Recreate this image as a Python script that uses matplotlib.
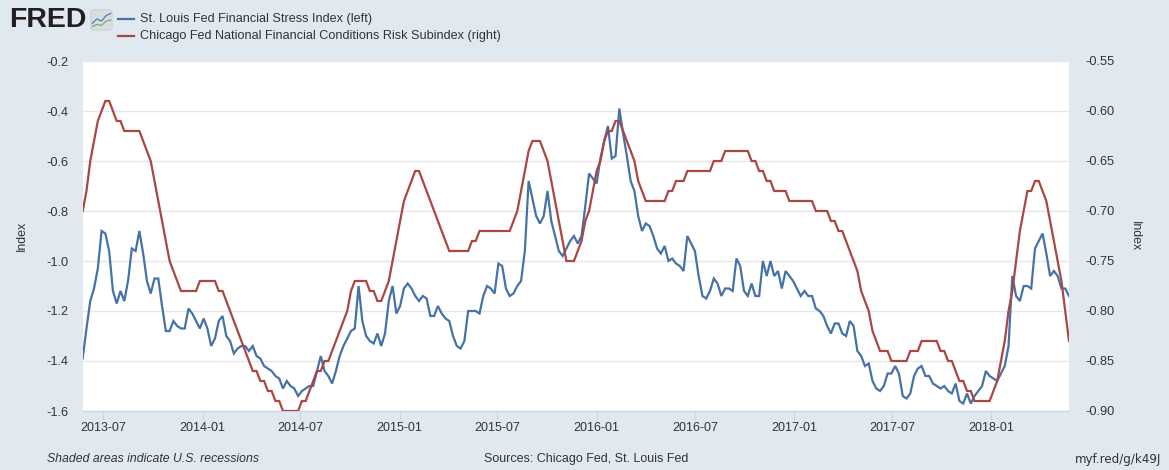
import pandas as pd
import matplotlib
matplotlib.use("Agg")
import matplotlib.pyplot as plt
import matplotlib.dates as mdates
from matplotlib.lines import Line2D
from matplotlib.patches import FancyBboxPatch

plt.rcParams['font.family'] = ['Liberation Sans', 'DejaVu Sans']

# --- DATA (weekly) ------------------------------------------------------
start_date = "2013-05-24"

stlfsi = [
    -1.39, -1.27, -1.16, -1.11, -1.03, -0.88, -0.89, -0.96, -1.12, -1.17,
    -1.12, -1.16, -1.08, -0.95, -0.96, -0.88, -0.97, -1.08, -1.13, -1.07,
    -1.07, -1.18, -1.28, -1.28, -1.24, -1.26, -1.27, -1.27, -1.19, -1.21,
    -1.24, -1.27, -1.23, -1.27, -1.34, -1.31, -1.24, -1.22, -1.30, -1.32,
    -1.37, -1.35, -1.34, -1.34, -1.36, -1.34, -1.38, -1.39, -1.42, -1.43,
    -1.44, -1.46, -1.47, -1.51, -1.48, -1.50, -1.51, -1.54, -1.52, -1.51,
    -1.50, -1.50, -1.44, -1.38, -1.44, -1.46, -1.49, -1.44, -1.38, -1.34,
    -1.31, -1.28, -1.27, -1.10, -1.24, -1.30, -1.32, -1.33, -1.29, -1.34,
    -1.29, -1.16, -1.10, -1.21, -1.18, -1.11, -1.09, -1.11, -1.14, -1.16,
    -1.14, -1.15, -1.22, -1.22, -1.18, -1.21, -1.23, -1.24, -1.30, -1.34,
    -1.35, -1.32, -1.20, -1.20, -1.20, -1.21, -1.14, -1.10, -1.11, -1.13,
    -1.01, -1.02, -1.11, -1.14, -1.13, -1.10, -1.08, -0.96, -0.68, -0.75,
    -0.82, -0.85, -0.82, -0.72, -0.84, -0.90, -0.96, -0.98, -0.95, -0.92,
    -0.90, -0.93, -0.90, -0.78, -0.65, -0.67, -0.69, -0.59, -0.52, -0.46,
    -0.59, -0.58, -0.39, -0.49, -0.58, -0.68, -0.72, -0.82, -0.88, -0.85,
    -0.86, -0.90, -0.95, -0.97, -0.94, -1.00, -0.99, -1.01, -1.02, -1.04,
    -0.90, -0.93, -0.96, -1.06, -1.14, -1.15, -1.12, -1.07, -1.09, -1.14,
    -1.11, -1.11, -1.12, -0.99, -1.02, -1.12, -1.14, -1.09, -1.14, -1.14,
    -1.00, -1.06, -1.00, -1.06, -1.04, -1.11, -1.04, -1.06, -1.08, -1.11,
    -1.14, -1.12, -1.14, -1.14, -1.19, -1.20, -1.22, -1.26, -1.29, -1.25,
    -1.25, -1.29, -1.30, -1.24, -1.26, -1.36, -1.38, -1.42, -1.41, -1.48,
    -1.51, -1.52, -1.50, -1.45, -1.45, -1.42, -1.45, -1.54, -1.55, -1.53,
    -1.46, -1.43, -1.42, -1.46, -1.46, -1.49, -1.50, -1.51, -1.50, -1.52,
    -1.53, -1.49, -1.56, -1.57, -1.53, -1.57, -1.54, -1.52, -1.50, -1.44,
    -1.46, -1.47, -1.48, -1.45, -1.42, -1.34, -1.06, -1.14, -1.16, -1.10,
    -1.10, -1.11, -0.95, -0.92, -0.89, -0.97, -1.06, -1.04, -1.06, -1.11,
    -1.11, -1.14,
]

nfci_risk = [
    -0.70, -0.68, -0.65, -0.63, -0.61, -0.60, -0.59, -0.59, -0.60, -0.61,
    -0.61, -0.62, -0.62, -0.62, -0.62, -0.62, -0.63, -0.64, -0.65, -0.67,
    -0.69, -0.71, -0.73, -0.75, -0.76, -0.77, -0.78, -0.78, -0.78, -0.78,
    -0.78, -0.77, -0.77, -0.77, -0.77, -0.77, -0.78, -0.78, -0.79, -0.80,
    -0.81, -0.82, -0.83, -0.84, -0.85, -0.86, -0.86, -0.87, -0.87, -0.88,
    -0.88, -0.89, -0.89, -0.90, -0.90, -0.90, -0.90, -0.90, -0.89, -0.89,
    -0.88, -0.87, -0.86, -0.86, -0.85, -0.85, -0.84, -0.83, -0.82, -0.81,
    -0.80, -0.78, -0.77, -0.77, -0.77, -0.77, -0.78, -0.78, -0.79, -0.79,
    -0.78, -0.77, -0.75, -0.73, -0.71, -0.69, -0.68, -0.67, -0.66, -0.66,
    -0.67, -0.68, -0.69, -0.70, -0.71, -0.72, -0.73, -0.74, -0.74, -0.74,
    -0.74, -0.74, -0.74, -0.73, -0.73, -0.72, -0.72, -0.72, -0.72, -0.72,
    -0.72, -0.72, -0.72, -0.72, -0.71, -0.70, -0.68, -0.66, -0.64, -0.63,
    -0.63, -0.63, -0.64, -0.65, -0.67, -0.69, -0.71, -0.73, -0.75, -0.75,
    -0.75, -0.74, -0.73, -0.71, -0.70, -0.68, -0.66, -0.65, -0.63, -0.62,
    -0.62, -0.61, -0.61, -0.62, -0.63, -0.64, -0.65, -0.67, -0.68, -0.69,
    -0.69, -0.69, -0.69, -0.69, -0.69, -0.68, -0.68, -0.67, -0.67, -0.67,
    -0.66, -0.66, -0.66, -0.66, -0.66, -0.66, -0.66, -0.65, -0.65, -0.65,
    -0.64, -0.64, -0.64, -0.64, -0.64, -0.64, -0.64, -0.65, -0.65, -0.66,
    -0.66, -0.67, -0.67, -0.68, -0.68, -0.68, -0.68, -0.69, -0.69, -0.69,
    -0.69, -0.69, -0.69, -0.69, -0.70, -0.70, -0.70, -0.70, -0.71, -0.71,
    -0.72, -0.72, -0.73, -0.74, -0.75, -0.76, -0.78, -0.79, -0.80, -0.82,
    -0.83, -0.84, -0.84, -0.84, -0.85, -0.85, -0.85, -0.85, -0.85, -0.84,
    -0.84, -0.84, -0.83, -0.83, -0.83, -0.83, -0.83, -0.84, -0.84, -0.85,
    -0.85, -0.86, -0.87, -0.87, -0.88, -0.88, -0.89, -0.89, -0.89, -0.89,
    -0.89, -0.88, -0.87, -0.85, -0.83, -0.80, -0.78, -0.75, -0.72, -0.70,
    -0.68, -0.68, -0.67, -0.67, -0.68, -0.69, -0.71, -0.73, -0.75, -0.77,
    -0.80, -0.83,
]

tick_months = ["2013-07", "2014-01", "2014-07", "2015-01", "2015-07",
               "2016-01", "2016-07", "2017-01", "2017-07", "2018-01"]
left_ticks = [-0.2, -0.4, -0.6, -0.8, -1.0, -1.2, -1.4, -1.6]
right_ticks = [-0.55, -0.60, -0.65, -0.70, -0.75, -0.80, -0.85, -0.90]

series_names = ["St. Louis Fed Financial Stress Index (left)",
                "Chicago Fed National Financial Conditions Risk Subindex (right)"]
# -----------------------------------------------------------------------

dates = pd.date_range(start_date, periods=len(stlfsi), freq="W-FRI")

BG = "#e1e9f0"
BLUE = "#4572a7"
RED = "#aa4643"
TXT = "#333333"
AXIS = "#ccd6eb"

W, H = 1169, 470
fig = plt.figure(figsize=(W / 100, H / 100), dpi=100, facecolor=BG)
ax = fig.add_axes([82.7 / W, 59 / H, (1069 - 82.7) / W, 350 / H])
ax.set_facecolor("white")
ax2 = ax.twinx()

ax.plot(dates, stlfsi, color=BLUE, lw=1.6, solid_joinstyle="miter", zorder=3)
ax2.plot(dates, nfci_risk, color=RED, lw=1.6, solid_joinstyle="miter", zorder=3)

ax.set_xlim(dates[0], dates[-1])
ax.set_ylim(-1.6, -0.2)
ax2.set_ylim(-0.90, -0.55)

ax.set_yticks(left_ticks)
ax.set_yticklabels([f"{v:.1f}" for v in left_ticks])
ax2.set_yticks(right_ticks)
ax2.set_yticklabels([f"{v:.2f}" for v in right_ticks])

ax.set_xticks(pd.to_datetime(tick_months))
ax.xaxis.set_major_formatter(mdates.DateFormatter("%Y-%m"))

ax.grid(axis="y", color="#e6e6e6", lw=1.0, zorder=0)
ax.set_axisbelow(True)
for a in (ax, ax2):
    for s in ("top", "left", "right"):
        a.spines[s].set_visible(False)
ax.spines["bottom"].set_color(AXIS)
ax.spines["bottom"].set_linewidth(1.0)
ax2.spines["bottom"].set_visible(False)

ax.tick_params(axis="x", length=6.5, width=1.0, color=AXIS, pad=1.5,
               labelsize=9, labelcolor=TXT)
ax.tick_params(axis="y", length=0, pad=10.5, labelsize=9.2, labelcolor=TXT)
ax2.tick_params(axis="y", length=0, pad=11.5, labelsize=9.2, labelcolor=TXT)

fig.text(22 / W, 1 - 236 / H, "Index", rotation=90, ha="center", va="center",
         fontsize=8.9, color=TXT)
fig.text(1135 / W, 1 - 236 / H, "Index", rotation=270, ha="center", va="center",
         fontsize=8.9, color=TXT)

# header: FRED logo + legend
fig.text(9 / W, 1 - 20 / H, "FRED", fontsize=20.5, fontweight="heavy",
         color="#231f20", ha="left", va="center")
icon = fig.add_axes([90 / W, 1 - 31 / H, 23 / W, 22 / H])
icon.set_xlim(0, 1)
icon.set_ylim(0, 1)
icon.axis("off")
icon.add_patch(FancyBboxPatch((0.04, 0.04), 0.92, 0.92,
                              boxstyle="round,pad=0,rounding_size=0.12",
                              fc="#d9dde1", ec="#c5cacf", lw=0.6))
icon.plot([0.1, 0.3, 0.5, 0.7, 0.9], [0.35, 0.55, 0.45, 0.7, 0.8],
          color="#4e7fb8", lw=0.9)
icon.plot([0.1, 0.3, 0.5, 0.7, 0.9], [0.2, 0.3, 0.25, 0.45, 0.5],
          color="#7ab05a", lw=0.9)

for yy, col, name in [(19, BLUE, series_names[0]), (36, RED, series_names[1])]:
    fig.add_artist(Line2D([118 / W, 134 / W], [1 - yy / H, 1 - yy / H],
                          color=col, lw=1.6, transform=fig.transFigure))
    fig.text(140 / W, 1 - yy / H, name, fontsize=9.1, color=TXT,
             ha="left", va="center")

# footer
fig.text(47 / W, 1 - 459 / H, "Shaded areas indicate U.S. recessions",
         fontsize=8.8, style="italic", color=TXT, ha="left", va="center")
fig.text(586 / W, 1 - 459 / H, "Sources: Chicago Fed, St. Louis Fed",
         fontsize=9, color=TXT, ha="center", va="center")
fig.text(1161 / W, 1 - 459 / H, "myf.red/g/k49J", family="DejaVu Sans",
         fontsize=8.6, color=TXT, ha="right", va="center")

fig.savefig("out.png", dpi=100, facecolor=BG)
